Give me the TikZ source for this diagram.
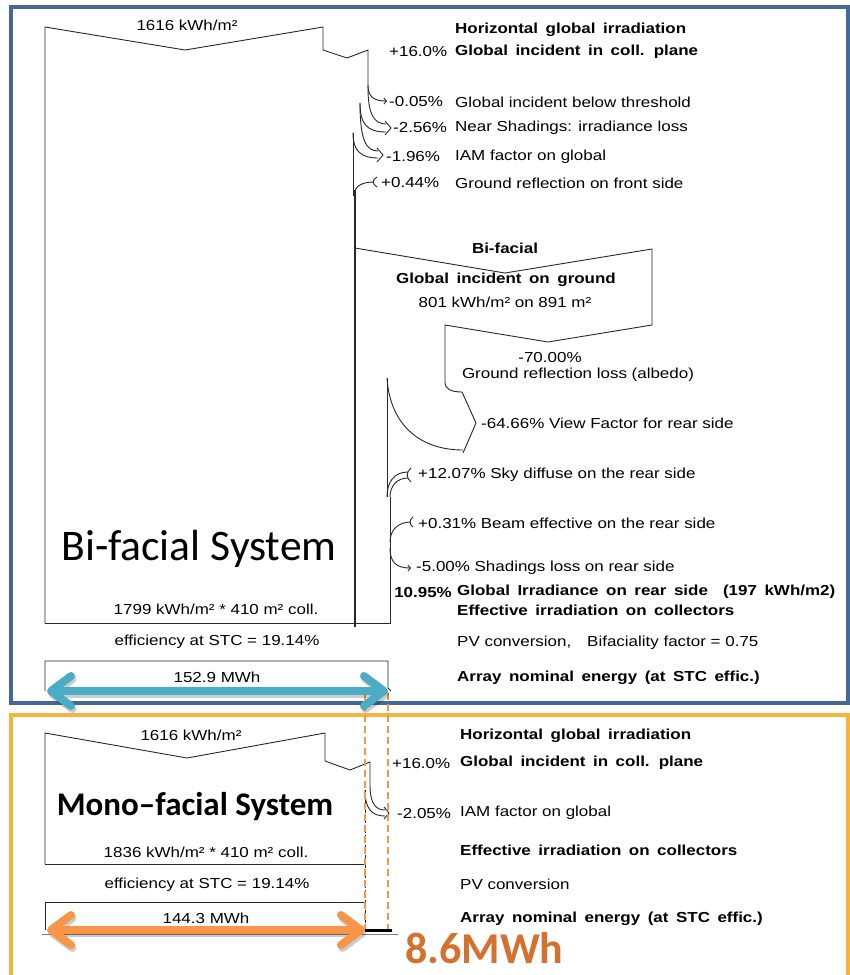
\documentclass[tikz,border=0pt]{standalone}
\usepackage{fontspec}
\setmainfont{Liberation Sans}[FakeStretch=1.17]
\newfontfamily\pvbold{Liberation Sans}[FakeStretch=1.17,WordSpace=1.6]
\newfontfamily\calibri{Carlito}
\usetikzlibrary{arrows.meta}

\definecolor{frameblue}{RGB}{70,104,148}
\definecolor{frameorange}{RGB}{246,180,60}
\definecolor{arrowteal}{RGB}{75,172,198}
\definecolor{arroworange}{RGB}{247,150,70}
\definecolor{difforange}{RGB}{214,112,46}
\definecolor{flowline}{RGB}{40,40,40}

\tikzset{
  flow/.style={flowline, line width=0.9pt},
  pv/.style={inner sep=0pt, font=\fontsize{14.5}{17}\selectfont},
  pvb/.style={inner sep=0pt, font=\pvbold\bfseries\fontsize{14.5}{17}\selectfont},
  lossarrow/.style={flow, -{Straight Barb[length=2.5pt,width=6pt]}},
  bigarrow/.style={line width=8pt, {Straight Barb[round,length=20pt,width=30pt]}-{Straight Barb[round,length=20pt,width=30pt]}},
  diffline/.style={arroworange, line width=2.2pt, dash pattern=on 7pt off 4pt},
}

\begin{document}
\begin{tikzpicture}[x=1pt,y=-1pt]
    \useasboundingbox (0,0) rectangle (850,975);
    \clip (0,0) rectangle (850,975);

    \draw[frameblue, line width=4pt] (11,7) rectangle (848,703);% Bi-facial frame
    \draw[frameorange, line width=3.5pt] (11,715) rectangle (848,1000);% Mono-facial frame

    %---------------------------------------------------------------%
    % bi-facial flow
    \draw[flow] (45,623) -- (45,27) -- (185,50) -- (323,27) -- (323,50) -- (347,58) -- (368,50) -- (368,88);
    \draw[lossarrow] (368,85) .. controls (368,97) and (374,101) .. (387,101);% -0.05%
    \draw[flow] (368,88) .. controls (368,114) and (374,124) .. (386,124);% -2.56%
    \draw[flow] (360,103) .. controls (360,124) and (367,132) .. (386,132);
    \draw[flow] (385,121) -- (391,128) -- (385,135);
    \draw[flow] (360,103) .. controls (360,140) and (366,151) .. (378,151);% -1.96%
    \draw[flow] (353,133) .. controls (353,150) and (360,158) .. (378,158);
    \draw[flow] (377,148) -- (383,155) -- (377,162);
    \draw[flow] (374,182) .. controls (362,182) and (354,186) .. (354,196);% +0.44%
    \draw[flow] (377,177) .. controls (372,180) and (372,184) .. (377,187);
    \draw[flow] (353,133) -- (353,196);
    \draw[flowline, line width=2.6pt] (355,190) -- (355,627);

    % ground and rear side
    \draw[flow] (355,248) -- (505,273) -- (652,249) -- (652,325) -- (548,342) -- (445,325) -- (445,382)
      .. controls (445,389) and (451,392) .. (462,392) -- (476,423) -- (463,453);
    \draw[flow] (387,378) .. controls (390,425) and (420,450) .. (463,450);
    \draw[flow] (387,378) -- (387,497);
    \draw[flow] (408,472) .. controls (394,472) and (387,482) .. (387,497);% +12.07%
    \draw[flow] (408,478) .. controls (397,478) and (390,486) .. (390,497);
    \draw[flow] (411,468) .. controls (406,472) and (406,478) .. (411,482);
    \draw[flow] (411,522) .. controls (398,522) and (390,530) .. (390,542);% +0.31%
    \draw[flow] (413,517) .. controls (409,520) and (409,524) .. (413,527);
    \draw[lossarrow] (390,548) .. controls (390,562) and (396,568) .. (411,568);% -5.00%
    \draw[flow] (390,497) -- (390,623) -- (45,623);
    \draw[flow] (45,691) -- (45,661) -- (388,661) -- (388,688) -- (391,691);

    %---------------------------------------------------------------%
    % mono-facial flow
    \draw[flow] (45,864) -- (45,733) -- (187,758) -- (325,733) -- (325,761) -- (350,770) -- (370,762) -- (370,785);
    \draw[flow] (370,785) .. controls (370,804) and (376,810) .. (385,810);% -2.05%
    \draw[flow] (365,790) .. controls (365,809) and (372,816) .. (385,816);
    \draw[flow] (384,807) -- (389,813) -- (384,819);
    \draw[flow] (45,864) -- (365,864);
    \draw[flow, densely dashed] (365,790) -- (365,930);
    \draw[flow] (45,930) -- (45,902) -- (365,902);
    \draw[gray, line width=0.8pt] (42,934) -- (398,934);

    %---------------------------------------------------------------%
    % energy arrows
    \coordinate (biL) at (47,691);
    \coordinate (biR) at (388,691);
    \coordinate (monoL) at (47,930);
    \coordinate (monoR) at (365,930);
    \coordinate (diffR) at (388,930);
    \coordinate (diffEnd) at (392,930);
    \draw[diffline] (biR) ++(-23,2) -- (monoR);
    \draw[diffline] (biR) ++(0,2) -- (diffR);
    \draw[black, line width=3pt] (monoR) -- (diffEnd);
    \draw[bigarrow, black, opacity=0.2, transform canvas={shift={(1.5pt,-3pt)}}] (biL) -- (biR);
    \draw[bigarrow, arrowteal] (biL) -- (biR);
    \draw[bigarrow, black, opacity=0.2, transform canvas={shift={(1.5pt,-3pt)}}] (monoL) -- (monoR);
    \draw[bigarrow, arroworange] (monoL) -- (monoR);

    %---------------------------------------------------------------%
    % bi-facial texts
    \node[pv] (biIn) at (187,25) {1616 kWh/m²};
    \node[font=\calibri\fontsize{43.6}{50}\selectfont, anchor=base, inner sep=0pt] (biTitle) at (199,560) {Bi-facial System};
    \node[pv] (biColl) at (216,609) {1799 kWh/m² * 410 m² coll.};
    \node[pv] (biEff) at (217,642) {efficiency at STC = 19.14\%};
    \node[pv] (biArray) at (217,677) {152.9 MWh};

    \node[pvb, anchor=west] (biHor) at (455,30) {Horizontal global irradiation};
    \node[pv, anchor=west] (biGainP) at (389,52) {+16.0\%};
    \node[pvb, anchor=west] (biPlane) at (455,52) {Global incident in coll. plane};
    \foreach \nm/\y/\px/\pc/\txt in {thr/102/389/-0.05/Global incident below threshold,
                                     shd/128/393/-2.56/Near Shadings: irradiance loss,
                                     iam/157/386/-1.96/IAM factor on global,
                                     gref/183/381/+0.44/Ground reflection on front side}{
        \node[pv, anchor=west] (p\nm) at (\px,\y) {\pc\%};
        \node[pv, anchor=west] (\nm) at (455,\y) {\txt};
    }
    \node[pvb] (gndTitle) at (505,248) {Bi-facial};
    \node[pvb] (gndInc) at (506,280) {Global incident on ground};
    \node[pv] (gndVal) at (505,302) {801 kWh/m² on 891 m²};
    \node[pv] (gndLossP) at (550,358) {-70.00\%};
    \node[pv] (gndLoss) at (578,375) {Ground reflection loss (albedo)};
    \node[pv, anchor=west] (viewF) at (481,423) {-64.66\% View Factor for rear side};
    \node[pv, anchor=west] (skyD) at (418,475) {+12.07\% Sky diffuse on the rear side};
    \node[pv, anchor=west] (beamE) at (418,523) {+0.31\% Beam effective on the rear side};
    \node[pv, anchor=west] (rearShd) at (416,568) {-5.00\% Shadings loss on rear side};
    \node[pvb, anchor=east] (rearP) at (452,592) {10.95\%};
    \node[pvb, anchor=west] (rearIrr) at (457,592) {Global Irradiance on rear side\ \ (197 kWh/m2)};
    \node[pvb, anchor=west] (biEffIrr) at (457,610) {Effective irradiation on collectors};
    \node[pv, anchor=west] (biPV) at (457,643) {PV conversion,\hspace{1.1em}Bifaciality factor = 0.75};
    \node[pvb, anchor=west] (biNom) at (457,678) {Array nominal energy (at STC effic.)};

    %---------------------------------------------------------------%
    % mono-facial texts
    \node[pv] (monoIn) at (191,735) {1616 kWh/m²};
    \node[font=\calibri\bfseries\fontsize{33}{40}\selectfont, anchor=base, inner sep=0pt] (monoTitle) at (195,815) {Mono–facial System};
    \node[pv] (monoColl) at (206,852) {1836 kWh/m² * 410 m² coll.};
    \node[pv] (monoEff) at (207,885) {efficiency at STC = 19.14\%};
    \node[pv] (monoArray) at (206,918) {144.3 MWh};

    \node[pvb, anchor=west] (monoHor) at (460,736) {Horizontal global irradiation};
    \node[pv, anchor=west] (monoGainP) at (392,763) {+16.0\%};
    \node[pvb, anchor=west] (monoPlane) at (460,763) {Global incident in coll. plane};
    \node[pv, anchor=west] (monoIamP) at (397,813) {-2.05\%};
    \node[pv, anchor=west] (monoIam) at (460,813) {IAM factor on global};
    \node[pvb, anchor=west] (monoEffIrr) at (460,850) {Effective irradiation on collectors};
    \node[pv, anchor=west] (monoPV) at (460,884) {PV conversion};
    \node[pvb, anchor=west] (monoNom) at (460,919) {Array nominal energy (at STC effic.)};

    \node[font=\calibri\bfseries\fontsize{44}{50}\selectfont, text=difforange, anchor=base west, inner sep=0pt] (diffTxt) at (405,963) {8.6MWh};
\end{tikzpicture}
\end{document}
